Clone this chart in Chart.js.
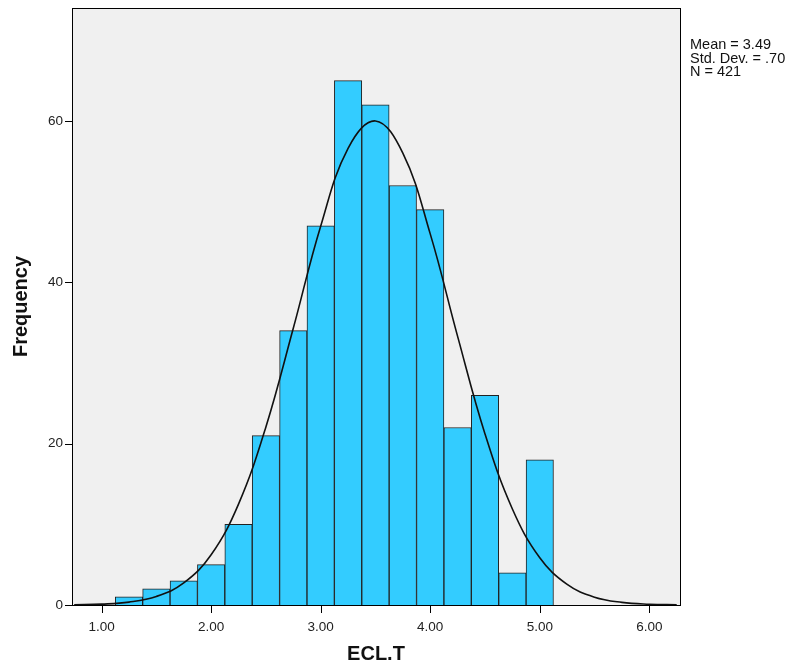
<!DOCTYPE html>
<html>
<head>
<meta charset="utf-8">
<script src="https://cdn.jsdelivr.net/npm/chart.js@4.4.1/dist/chart.umd.min.js"></script>
<style>
html,body{margin:0;padding:0;background:#fff;}
#wrap{position:relative;width:796px;height:666px;}
</style>
</head>
<body>
<div id="wrap"><canvas id="c" width="796" height="666"></canvas></div>
<script>
// Histogram bins (centres) and frequencies
const binCenters = [1.25, 1.5, 1.75, 2.0, 2.25, 2.5, 2.75, 3.0, 3.25, 3.5, 3.75, 4.0, 4.25, 4.5, 4.75, 5.0];
const frequencies = [1, 2, 3, 5, 10, 21, 34, 47, 65, 62, 52, 49, 22, 26, 4, 18];
// Normal curve
const curveX = [0.75, 1.0, 1.25, 1.5, 1.75, 2.0, 2.25, 2.5, 2.75, 3.0, 3.25, 3.5, 3.75, 4.0, 4.25, 4.5, 4.75, 5.0, 5.25, 5.5, 5.75, 6.0, 6.25];
const curveY = [0.03, 0.11, 0.36, 1.06, 2.73, 6.22, 12.5, 22.07, 34.3, 46.96, 56.6, 60.0, 56.0, 46.0, 33.3, 21.2, 11.9, 5.86, 2.55, 0.97, 0.33, 0.10, 0.03];
const xTicks = [1, 2, 3, 4, 5, 6];
const yTicks = [0, 20, 40, 60];
const statsLines = ["Mean = 3.49", "Std. Dev. = .70", "N = 421"];
const xTitle = "ECL.T";
const yTitle = "Frequency";

const FONT = "'Liberation Sans', Arial, Helvetica, sans-serif";

const framePlugin = {
  id: 'frame',
  beforeDatasetsDraw(chart) {
    const {ctx, chartArea: a} = chart;
    ctx.save();
    ctx.fillStyle = '#f0f0f0';
    ctx.fillRect(a.left, a.top, a.right - a.left, a.bottom - a.top);
    ctx.restore();
  },
  afterDraw(chart) {
    const {ctx, chartArea: a} = chart;
    const xs = chart.scales.x, ys = chart.scales.y;
    ctx.save();
    ctx.strokeStyle = '#000';
    ctx.lineWidth = 1;
    ctx.strokeRect(Math.round(a.left) + 0.5, Math.round(a.top) + 0.5, Math.round(a.right - a.left), Math.round(a.bottom - a.top));
    // tick marks
    ctx.beginPath();
    xTicks.forEach(v => {
      const px = Math.round(xs.getPixelForValue(v)) + 0.5;
      ctx.moveTo(px, Math.round(a.bottom));
      ctx.lineTo(px, Math.round(a.bottom) + 8);
    });
    yTicks.forEach(v => {
      const py = Math.round(ys.getPixelForValue(v)) + 0.5;
      ctx.moveTo(Math.round(a.left) - 7, py);
      ctx.lineTo(Math.round(a.left), py);
    });
    ctx.stroke();
    ctx.fillStyle = '#111';
    ctx.font = '14.5px ' + FONT;
    ctx.textBaseline = 'middle';
    ctx.textAlign = 'left';
    statsLines.forEach((t, i) => ctx.fillText(t, 690, 45 + i * 13.5));
    ctx.restore();
  }
};

new Chart(document.getElementById('c'), {
  data: {
    datasets: [
      {
        type: 'line',
        data: curveX.map((x, i) => ({x, y: curveY[i]})),
        borderColor: '#111',
        borderWidth: 1.6,
        pointRadius: 0,
        tension: 0.4,
        fill: false,
        order: 0
      },
      {
        type: 'bar',
        data: binCenters.map((x, i) => ({x, y: frequencies[i]})),
        backgroundColor: '#33ccff',
        borderColor: '#222',
        borderWidth: 1,
        barPercentage: 1,
        categoryPercentage: 1,
        order: 1
      }
    ]
  },
  options: {
    responsive: false,
    animation: false,
    layout: {padding: {left: 0, right: 116, top: 8, bottom: 0}},
    plugins: {legend: {display: false}, tooltip: {enabled: false}},
    scales: {
      x: {
        type: 'linear',
        offset: false,
        min: 0.73,
        max: 6.28,
        afterBuildTicks(s) { s.ticks = xTicks.map(v => ({value: v})); },
        afterFit(s) { s.height = 61; s.paddingLeft = 0; s.paddingRight = 0; },
        grid: {display: false, offset: false, drawOnChartArea: false, drawTicks: false, tickLength: 8},
        border: {display: false},
        ticks: {
          color: '#222',
          font: {family: FONT, size: 13.5},
          padding: 14,
          maxRotation: 0,
          callback: v => Number(v).toFixed(2)
        },
        title: {display: true, text: xTitle, color: '#111', font: {family: FONT, size: 20, weight: 'bold'}, padding: {top: 0, bottom: 0}}
      },
      y: {
        type: 'linear',
        min: 0,
        max: 74,
        afterBuildTicks(s) { s.ticks = yTicks.map(v => ({value: v})); },
        afterFit(s) { s.width = 72; s.paddingTop = 0; s.paddingBottom = 0; },
        grid: {display: false, drawOnChartArea: false, drawTicks: false},
        border: {display: false},
        ticks: {
          color: '#222',
          font: {family: FONT, size: 13.5},
          padding: 9
        },
        title: {display: true, text: yTitle, color: '#111', font: {family: FONT, size: 20, weight: 'bold'}, padding: {top: 9, bottom: 0}}
      }
    }
  },
  plugins: [framePlugin]
});
</script>
</body>
</html>
